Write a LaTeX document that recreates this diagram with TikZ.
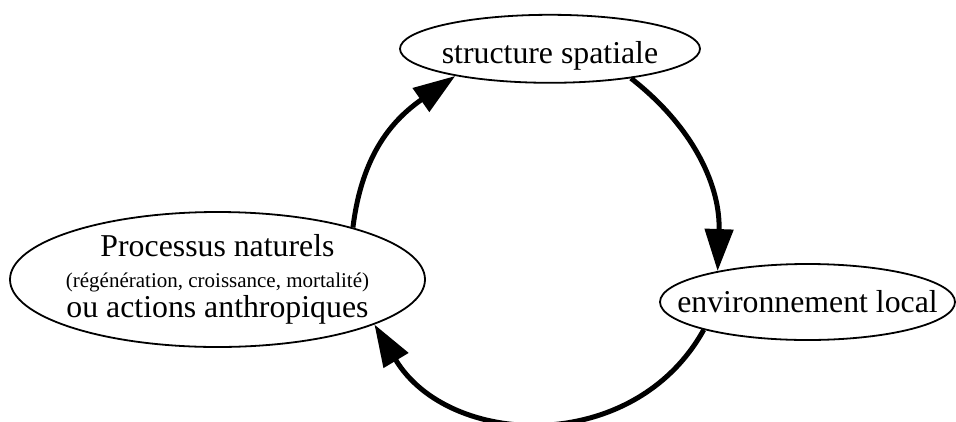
\documentclass[tikz,border=0pt]{standalone}
\usepackage{fontspec}
\setmainfont{Liberation Serif}
\usetikzlibrary{arrows.meta,shapes.geometric}
\tikzset{
  oval/.style={ellipse, draw, line width=1.8pt, inner ysep=0pt,
    font=\fontsize{31.8}{30.5}\selectfont},
  link/.style={line width=5pt, -{Triangle[length=42pt,width=28pt]}},
}
\begin{document}
\begin{tikzpicture}[x=1pt,y=-1pt]
\useasboundingbox (0,0) rectangle (956,421);
\node[oval, minimum width=300pt, minimum height=68pt, inner xsep=-4pt,
  text height=28.4pt, text depth=0pt] (T) at (550,48.8) {structure spatiale};
\node[oval, minimum width=295pt, minimum height=76pt, inner xsep=-30pt]
  (R) at (807.5,302) {environnement local};
\node[oval, align=center, minimum width=415pt, minimum height=135pt,
  inner xsep=-10pt] (L) at (217.5,279.5)
  {Processus naturels\\{\fontsize{21}{30.5}\selectfont (régénération, croissance, mortalité)}\\ou actions anthropiques};
\draw[link] (L.21) to[out=83, in=215, looseness=1.05] (T.196);
\draw[link] (T.340) to[out=-38, in=88, looseness=1.0] (R.161);
\draw[link] (R.195) to[out=241, in=301, looseness=1.12] (L.344);
\end{tikzpicture}
\end{document}
